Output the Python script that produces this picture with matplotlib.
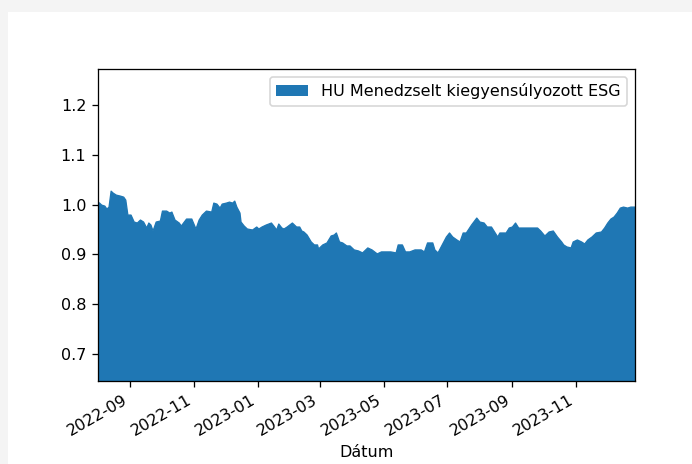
import matplotlib
matplotlib.use("Agg")
import matplotlib.pyplot as plt
import matplotlib.dates as mdates
import matplotlib.ticker as mticker
from matplotlib.patches import Rectangle
import pandas as pd

series_name = "HU Menedzselt kiegyensúlyozott ESG"
x_label = "Dátum"

dates = [
    "2022-08-01", "2022-08-03", "2022-08-05", "2022-08-08", "2022-08-10", "2022-08-12",
    "2022-08-14", "2022-08-16", "2022-08-19", "2022-08-23", "2022-08-26", "2022-08-28",
    "2022-08-30", "2022-09-02", "2022-09-05", "2022-09-08", "2022-09-11", "2022-09-14",
    "2022-09-17", "2022-09-19", "2022-09-21", "2022-09-23", "2022-09-26", "2022-09-30",
    "2022-10-02", "2022-10-06", "2022-10-09", "2022-10-11", "2022-10-14", "2022-10-18",
    "2022-10-20", "2022-10-25", "2022-10-30", "2022-11-03", "2022-11-06", "2022-11-09",
    "2022-11-13", "2022-11-18", "2022-11-20", "2022-11-23", "2022-11-26", "2022-11-28",
    "2022-12-02", "2022-12-05", "2022-12-08", "2022-12-10", "2022-12-12", "2022-12-15",
    "2022-12-16", "2022-12-19", "2022-12-22", "2022-12-27", "2022-12-31", "2023-01-02",
    "2023-01-05", "2023-01-09", "2023-01-14", "2023-01-17", "2023-01-19", "2023-01-21",
    "2023-01-24", "2023-01-26", "2023-01-29", "2023-02-03", "2023-02-07", "2023-02-10",
    "2023-02-12", "2023-02-14", "2023-02-17", "2023-02-21", "2023-02-24", "2023-02-27",
    "2023-02-28", "2023-03-04", "2023-03-08", "2023-03-12", "2023-03-15", "2023-03-17",
    "2023-03-20", "2023-03-23", "2023-03-27", "2023-03-30", "2023-04-03", "2023-04-07",
    "2023-04-11", "2023-04-16", "2023-04-20", "2023-04-25", "2023-04-29", "2023-05-04",
    "2023-05-08", "2023-05-13", "2023-05-15", "2023-05-19", "2023-05-22", "2023-05-26",
    "2023-05-31", "2023-06-06", "2023-06-09", "2023-06-12", "2023-06-17", "2023-06-19",
    "2023-06-22", "2023-06-26", "2023-06-30", "2023-07-03", "2023-07-06", "2023-07-10",
    "2023-07-13", "2023-07-16", "2023-07-19", "2023-07-24", "2023-07-29", "2023-08-01",
    "2023-08-05", "2023-08-08", "2023-08-12", "2023-08-15", "2023-08-18", "2023-08-20",
    "2023-08-26", "2023-08-29", "2023-09-01", "2023-09-04", "2023-09-07", "2023-09-12",
    "2023-09-20", "2023-09-25", "2023-09-28", "2023-10-02", "2023-10-06", "2023-10-10",
    "2023-10-14", "2023-10-18", "2023-10-20", "2023-10-23", "2023-10-27", "2023-10-29",
    "2023-11-02", "2023-11-06", "2023-11-09", "2023-11-12", "2023-11-16", "2023-11-20",
    "2023-11-25", "2023-11-28", "2023-12-01", "2023-12-04", "2023-12-07", "2023-12-10",
    "2023-12-13", "2023-12-16", "2023-12-20", "2023-12-23", "2023-12-27",
]

values = [
    1.005, 1.003, 0.999, 0.997, 0.991, 0.995,
    1.027, 1.023, 1.019, 1.017, 1.015, 1.009,
    0.979, 0.979, 0.965, 0.963, 0.969, 0.965,
    0.953, 0.963, 0.959, 0.947, 0.965, 0.967,
    0.987, 0.987, 0.983, 0.985, 0.969, 0.963,
    0.957, 0.971, 0.971, 0.951, 0.969, 0.979,
    0.987, 0.985, 1.003, 1.001, 0.993, 1.001,
    1.003, 1.005, 1.003, 1.007, 0.995, 0.983,
    0.965, 0.957, 0.951, 0.949, 0.955, 0.951,
    0.955, 0.959, 0.963, 0.955, 0.949, 0.961,
    0.953, 0.951, 0.955, 0.963, 0.955, 0.955,
    0.947, 0.945, 0.939, 0.925, 0.919, 0.919,
    0.911, 0.919, 0.923, 0.937, 0.939, 0.943,
    0.925, 0.923, 0.917, 0.917, 0.909, 0.907,
    0.903, 0.913, 0.909, 0.901, 0.905, 0.905,
    0.905, 0.903, 0.919, 0.919, 0.905, 0.905,
    0.909, 0.909, 0.905, 0.923, 0.923, 0.909,
    0.903, 0.919, 0.935, 0.943, 0.935, 0.929,
    0.925, 0.943, 0.943, 0.959, 0.973, 0.965,
    0.963, 0.955, 0.955, 0.945, 0.935, 0.943,
    0.943, 0.953, 0.955, 0.963, 0.953, 0.953,
    0.953, 0.953, 0.947, 0.937, 0.945, 0.947,
    0.935, 0.925, 0.919, 0.915, 0.913, 0.925,
    0.929, 0.925, 0.921, 0.929, 0.935, 0.943,
    0.945, 0.953, 0.963, 0.971, 0.975, 0.983,
    0.993, 0.995, 0.993, 0.995, 0.995,
]

y_ticks = [0.7, 0.8, 0.9, 1.0, 1.1, 1.2]

x = pd.to_datetime(dates)
color = "#1f77b4"

DPI = 115.2
fig = plt.figure(figsize=(692 / DPI, 464 / DPI), dpi=DPI, facecolor="#f4f4f4")
bg = Rectangle((8 / 692, 0), 1, (464 - 12) / 464, transform=fig.transFigure,
               facecolor="white", edgecolor="none", zorder=-10)
fig.add_artist(bg)
ax = fig.add_axes([97.5 / 692, (464 - 381) / 464, (635 - 97.5) / 692, (381 - 69) / 464])
ax.set_zorder(1)

ax.fill_between(x, 0, values, color=color, linewidth=0, label=series_name)
ax.plot(x, values, color=color, linewidth=0.8)

ax.set_xlim(x.min(), x.max())
ax.set_ylim(0.6458, 1.2723)
ax.set_yticks(y_ticks)
ax.xaxis.set_major_locator(mdates.MonthLocator(bymonth=[1, 3, 5, 7, 9, 11]))
ax.xaxis.set_major_formatter(mdates.DateFormatter("%Y-%m"))
ax.xaxis.set_minor_locator(mticker.NullLocator())
plt.setp(ax.get_xticklabels(), rotation=30, ha="right")
ax.set_xlabel(x_label)
ax.legend(loc="upper right")

fig.savefig("out.png", dpi=DPI, facecolor=fig.get_facecolor())
